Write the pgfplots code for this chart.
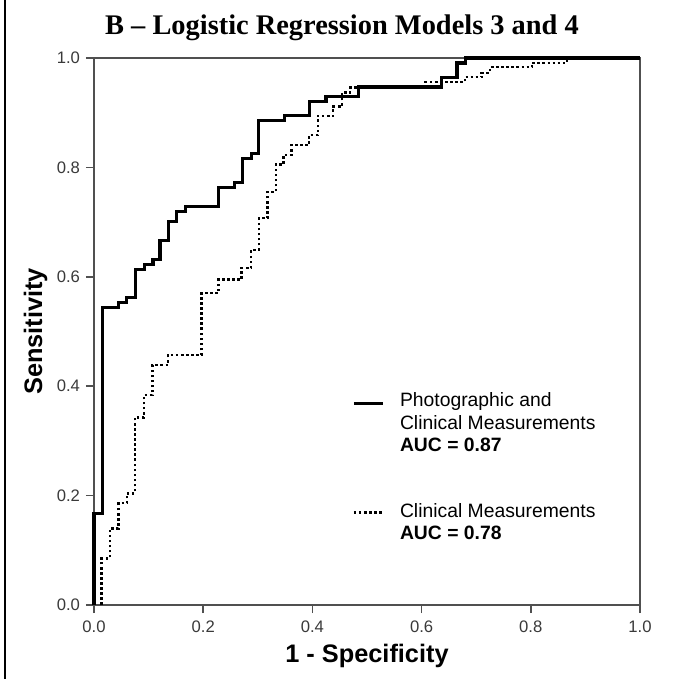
\documentclass[border=0pt]{standalone}
\usepackage{fontspec}
\setmainfont{Liberation Sans}
\newfontfamily\titlefont{Liberation Serif}
\usepackage{pgfplots}
\pgfplotsset{compat=1.18}
\definecolor{axisgray}{HTML}{505050}
\definecolor{ticklabel}{HTML}{3A3A3A}

% Photographic and clinical measurements (model 3)
\pgfplotstableread{
x y
0.000 0.000
0.000 0.168
0.015 0.168
0.015 0.544
0.045 0.544
0.045 0.553
0.060 0.553
0.060 0.562
0.076 0.562
0.076 0.614
0.092 0.614
0.092 0.623
0.108 0.623
0.108 0.632
0.121 0.632
0.121 0.667
0.136 0.667
0.136 0.701
0.151 0.701
0.151 0.719
0.167 0.719
0.167 0.728
0.228 0.728
0.228 0.763
0.258 0.763
0.258 0.772
0.272 0.772
0.272 0.816
0.289 0.816
0.289 0.825
0.302 0.825
0.302 0.886
0.349 0.886
0.349 0.895
0.394 0.895
0.394 0.921
0.425 0.921
0.425 0.930
0.484 0.930
0.484 0.947
0.637 0.947
0.637 0.965
0.665 0.965
0.665 0.991
0.681 0.991
0.681 1.000
1.000 1.000
}\photoclin

% Clinical measurements only (model 4)
\pgfplotstableread{
x y
0.014 0.000
0.014 0.085
0.029 0.085
0.029 0.140
0.045 0.140
0.045 0.186
0.060 0.186
0.060 0.204
0.075 0.204
0.075 0.343
0.092 0.343
0.092 0.384
0.107 0.384
0.107 0.439
0.136 0.439
0.136 0.457
0.197 0.457
0.197 0.570
0.228 0.570
0.228 0.595
0.270 0.595
0.270 0.616
0.288 0.616
0.288 0.649
0.302 0.649
0.302 0.707
0.318 0.707
0.318 0.755
0.333 0.755
0.333 0.805
0.347 0.805
0.347 0.823
0.362 0.823
0.362 0.841
0.394 0.841
0.394 0.859
0.410 0.859
0.410 0.894
0.438 0.894
0.438 0.911
0.454 0.911
0.454 0.937
0.469 0.937
0.469 0.946
0.606 0.946
0.606 0.956
0.679 0.956
0.679 0.965
0.710 0.965
0.710 0.973
0.725 0.973
0.725 0.983
0.802 0.983
0.802 0.991
0.866 0.991
0.866 1.000
1.000 1.000
}\clin

\tikzset{
  solidroc/.style={black, line width=2.4pt, line cap=butt, line join=miter},
  dotroc/.style={black, line width=1.8pt, line cap=butt, dash pattern=on 1.9pt off 1.9pt},
}

\begin{document}
\begin{tikzpicture}
\path[use as bounding box] (0,0) rectangle (504.75pt,509.25pt);
\fill[white] (0,0) rectangle (504.75pt,509.25pt);
\draw[line width=1.5pt] (3.75pt,0) -- (3.75pt,509.25pt);
\node[anchor=base, font=\titlefont\bfseries\fontsize{21.3}{24}\selectfont]
  at (256.5pt,483pt) {B – Logistic Regression Models 3 and 4};
\begin{axis}[
  at={(70.5pt,55.5pt)}, anchor=south west,
  scale only axis, width=409.5pt, height=410.25pt,
  xmin=0, xmax=1, ymin=0, ymax=1,
  clip=false,
  xtick={0,0.2,0.4,0.6,0.8,1.0},
  ytick={0,0.2,0.4,0.6,0.8,1.0},
  xtick pos=left, ytick pos=left,
  tick align=outside,
  major tick length=6pt,
  tick style={axisgray, line width=1.2pt},
  axis line style={axisgray, line width=1.2pt},
  /pgf/number format/.cd, fixed, fixed zerofill, precision=1, assume math mode=true,
  /pgfplots/.cd,
  tick label style={font=\fontsize{12.5}{14}\selectfont, text=ticklabel},
  xticklabel style={yshift=-2pt},
  yticklabel style={xshift=-1pt},
  xlabel={1 - Specificity},
  ylabel={Sensitivity},
  label style={font=\bfseries\fontsize{19}{22}\selectfont},
  xlabel style={at={(axis description cs:0.5,-0.106)}, anchor=base},
  ylabel style={at={(axis description cs:-0.095,0.5)}, anchor=base},
]
\addplot[dotroc] table[x=x, y=y] {\clin};
\addplot[solidroc] table[x=x, y=y] {\photoclin};

% legend
\draw[solidroc] (axis cs:0.476,0.369) -- (axis cs:0.529,0.369);
\draw[dotroc] (axis cs:0.476,0.169) -- (axis cs:0.529,0.169);
\begin{scope}[every node/.style={anchor=base west, inner sep=0pt, font=\fontsize{14.5}{17}\selectfont}]
\node at (axis cs:0.560,0.363) {Photographic and};
\node at (axis cs:0.560,0.320) {Clinical Measurements};
\node at (axis cs:0.560,0.280) {\bfseries AUC = 0.87};
\node at (axis cs:0.560,0.160) {Clinical Measurements};
\node at (axis cs:0.560,0.119) {\bfseries AUC = 0.78};
\end{scope}
\end{axis}
\end{tikzpicture}
\end{document}
